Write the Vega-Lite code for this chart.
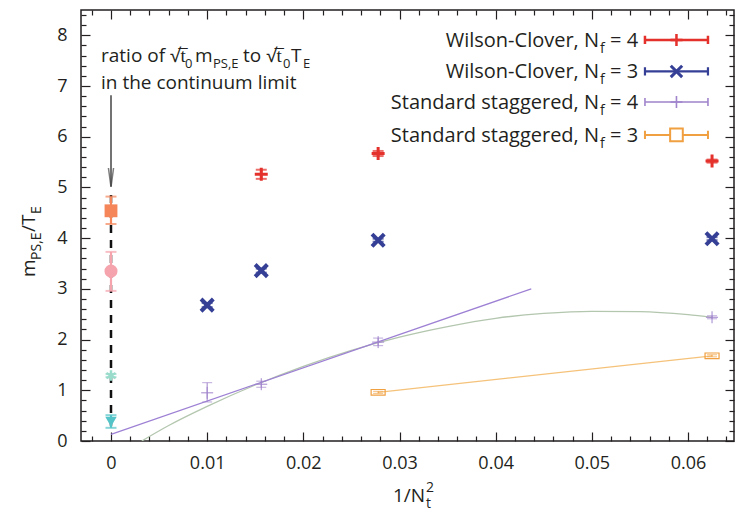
{
"$schema": "https://vega.github.io/schema/vega-lite/v6.json",
"width": 653, "height": 431,
"autosize": {"type": "none"},
"padding": {"left": 81, "top": 10, "right": 2, "bottom": 71},
"background": "white",
"config": {
  "view": {"stroke": "#231f20", "strokeWidth": 1.5},
  "font": "Open Sans",
  "axis": {"grid": false, "domain": false, "labelFont": "Open Sans", "labelFontSize": 18, "labelColor": "#231f20", "tickColor": "#231f20", "tickWidth": 1.2, "labelFlush": false, "labelOverlap": false},
  "text": {"font": "Open Sans", "color": "#231f20"}
},
"data": {"values": [{}]},
"datasets": {
  "pts": [
    {"s": "WC4", "x": 0.015625, "y": 5.26, "lo": 5.17, "hi": 5.35},
    {"s": "WC4", "x": 0.027778, "y": 5.67, "lo": 5.62, "hi": 5.72},
    {"s": "WC4", "x": 0.0625, "y": 5.52, "lo": 5.49, "hi": 5.55},
    {"s": "WC3", "x": 0.01, "y": 2.68, "lo": 2.64, "hi": 2.72},
    {"s": "WC3", "x": 0.015625, "y": 3.36, "lo": 3.32, "hi": 3.40},
    {"s": "WC3", "x": 0.027778, "y": 3.96, "lo": 3.93, "hi": 3.99},
    {"s": "WC3", "x": 0.0625, "y": 3.99, "lo": 3.96, "hi": 4.02},
    {"s": "SS4", "x": 0.01, "y": 0.95, "lo": 0.77, "hi": 1.15},
    {"s": "SS4", "x": 0.015625, "y": 1.12, "lo": 1.06, "hi": 1.18},
    {"s": "SS4", "x": 0.027778, "y": 1.95, "lo": 1.88, "hi": 2.03},
    {"s": "SS4", "x": 0.0625, "y": 2.44, "lo": 2.41, "hi": 2.47},
    {"s": "SS3", "x": 0.027778, "y": 0.96, "lo": 0.94, "hi": 0.98},
    {"s": "SS3", "x": 0.0625, "y": 1.68, "lo": 1.66, "hi": 1.70},
    {"s": "CLsq", "x": 0, "y": 4.54, "lo": 4.28, "hi": 4.82},
    {"s": "CLci", "x": 0, "y": 3.35, "lo": 2.96, "hi": 3.73},
    {"s": "CLst", "x": 0, "y": 1.29, "lo": 1.26, "hi": 1.32},
    {"s": "CLtr", "x": 0, "y": 0.38, "lo": 0.26, "hi": 0.51}
  ],
  "fitq": [
    {"x": 0.0032, "y": 0.0}, {"x": 0.006, "y": 0.305}, {"x": 0.01, "y": 0.682}, {"x": 0.015, "y": 1.104},
    {"x": 0.02, "y": 1.473}, {"x": 0.025, "y": 1.788}, {"x": 0.03, "y": 2.049}, {"x": 0.035, "y": 2.257},
    {"x": 0.04, "y": 2.42}, {"x": 0.045, "y": 2.515}, {"x": 0.05, "y": 2.558}, {"x": 0.055, "y": 2.552},
    {"x": 0.06, "y": 2.491}, {"x": 0.0625, "y": 2.44}
  ],
  "fitl": [{"x": 0, "y": 0.13}, {"x": 0.0437, "y": 3.0}]
},
"resolve": {"axis": {"x": "independent", "y": "independent"}},
"layer": [
  {"data": {"name": "pts"}, "mark": {"type": "point", "opacity": 0},
   "encoding": {
     "x": {"field": "x", "type": "quantitative", "scale": {"domain": [-0.0031196, 0.064783], "nice": false, "zero": false},
           "axis": {"orient": "bottom", "values": [0, 0.01, 0.02, 0.03, 0.04, 0.05, 0.06], "format": "~g", "tickSize": -9, "labelPadding": 22, "title": null}},
     "y": {"field": "y", "type": "quantitative", "scale": {"domain": [0, 8.5], "nice": false, "zero": false},
           "axis": {"orient": "left", "values": [0, 1, 2, 3, 4, 5, 6, 7, 8], "format": "d", "tickSize": -9, "labelPadding": 23, "title": null}}}},
  {"data": {"name": "pts"}, "mark": {"type": "point", "opacity": 0},
   "encoding": {
     "x": {"field": "x", "type": "quantitative", "scale": {"domain": [-0.0031196, 0.064783], "nice": false, "zero": false},
           "axis": {"orient": "bottom", "values": [-0.002, 0.002, 0.004, 0.006, 0.008, 0.012, 0.014, 0.016, 0.018, 0.022, 0.024, 0.026, 0.028, 0.032, 0.034, 0.036, 0.038, 0.042, 0.044, 0.046, 0.048, 0.052, 0.054, 0.056, 0.058, 0.062, 0.064], "tickSize": -5, "labels": false, "title": null}},
     "y": {"field": "y", "type": "quantitative", "scale": {"domain": [0, 8.5], "nice": false, "zero": false},
           "axis": {"orient": "left", "values": [0.2, 0.4, 0.6, 0.8, 1.2, 1.4, 1.6, 1.8, 2.2, 2.4, 2.6, 2.8, 3.2, 3.4, 3.6, 3.8, 4.2, 4.4, 4.6, 4.8, 5.2, 5.4, 5.6, 5.8, 6.2, 6.4, 6.6, 6.8, 7.2, 7.4, 7.6, 7.8, 8.2, 8.4], "tickSize": -5, "labels": false, "title": null}}}},
  {"data": {"name": "pts"}, "mark": {"type": "point", "opacity": 0},
   "encoding": {
     "x": {"field": "x", "type": "quantitative", "scale": {"domain": [-0.0031196, 0.064783], "nice": false, "zero": false},
           "axis": {"orient": "top", "values": [0, 0.01, 0.02, 0.03, 0.04, 0.05, 0.06], "tickSize": -9, "labels": false, "title": null}},
     "y": {"field": "y", "type": "quantitative", "scale": {"domain": [0, 8.5], "nice": false, "zero": false},
           "axis": {"orient": "right", "values": [0, 1, 2, 3, 4, 5, 6, 7, 8], "tickSize": -9, "labels": false, "title": null}}}},
  {"data": {"name": "pts"}, "mark": {"type": "point", "opacity": 0},
   "encoding": {
     "x": {"field": "x", "type": "quantitative", "scale": {"domain": [-0.0031196, 0.064783], "nice": false, "zero": false},
           "axis": {"orient": "top", "values": [-0.002, 0.002, 0.004, 0.006, 0.008, 0.012, 0.014, 0.016, 0.018, 0.022, 0.024, 0.026, 0.028, 0.032, 0.034, 0.036, 0.038, 0.042, 0.044, 0.046, 0.048, 0.052, 0.054, 0.056, 0.058, 0.062, 0.064], "tickSize": -5, "labels": false, "title": null}},
     "y": {"field": "y", "type": "quantitative", "scale": {"domain": [0, 8.5], "nice": false, "zero": false},
           "axis": {"orient": "right", "values": [0.2, 0.4, 0.6, 0.8, 1.2, 1.4, 1.6, 1.8, 2.2, 2.4, 2.6, 2.8, 3.2, 3.4, 3.6, 3.8, 4.2, 4.4, 4.6, 4.8, 5.2, 5.4, 5.6, 5.8, 6.2, 6.4, 6.6, 6.8, 7.2, 7.4, 7.6, 7.8, 8.2, 8.4], "tickSize": -5, "labels": false, "title": null}}}},

  {"data": {"name": "fitq"}, "mark": {"type": "line", "color": "#b3c6ae", "strokeWidth": 1.3, "interpolate": "monotone", "clip": true},
   "encoding": {"x": {"field": "x", "type": "quantitative", "axis": null}, "y": {"field": "y", "type": "quantitative", "axis": null}}},
  {"data": {"name": "fitl"}, "mark": {"type": "line", "color": "#9d80d4", "strokeWidth": 1.2},
   "encoding": {"x": {"field": "x", "type": "quantitative", "axis": null}, "y": {"field": "y", "type": "quantitative", "axis": null}}},
  {"data": {"name": "pts"}, "transform": [{"filter": {"field": "s", "equal": "SS3"}}], "mark": {"type": "line", "color": "#f5c27a", "strokeWidth": 1.2},
   "encoding": {"x": {"field": "x", "type": "quantitative", "axis": null}, "y": {"field": "y", "type": "quantitative", "axis": null}}},

  {"mark": {"type": "rule", "color": "#111111", "strokeWidth": 2.5, "strokeDash": [8, 7]},
   "encoding": {"x": {"datum": 0, "type": "quantitative", "axis": null}, "y": {"datum": 4.85, "type": "quantitative", "axis": null}, "y2": {"datum": 0.3}}},
  {"mark": {"type": "rule", "color": "#444444", "strokeWidth": 1.5},
   "encoding": {"x": {"datum": 0, "type": "quantitative", "axis": null}, "y": {"datum": 6.82, "type": "quantitative", "axis": null}, "y2": {"datum": 5.02}}},
  {"mark": {"type": "point", "shape": "M-0.27,-1L0,1L0.27,-1", "size": 361, "filled": false, "color": "#444444", "strokeWidth": 1.5},
   "encoding": {"x": {"datum": 0, "type": "quantitative", "axis": null}, "y": {"datum": 5.197, "type": "quantitative", "axis": null}}},

  {"data": {"name": "pts"}, "transform": [{"filter": {"field": "s", "oneOf": ["WC4", "WC3", "CLsq", "CLci", "CLst", "CLtr"]}}],
   "mark": {"type": "rule", "strokeWidth": 2.2},
   "encoding": {"x": {"field": "x", "type": "quantitative", "axis": null}, "y": {"field": "lo", "type": "quantitative", "axis": null}, "y2": {"field": "hi"},
     "color": {"field": "s", "type": "nominal", "legend": null, "scale": {"domain": ["WC4", "WC3", "SS4", "SS3", "CLsq", "CLci", "CLst", "CLtr"], "range": ["#e4312b", "#343f95", "#a084cc", "#f0a040", "#f4865a", "#f5a3ad", "#9adccc", "#55c4c8"]}}}},
  {"data": {"name": "pts"}, "transform": [{"filter": {"field": "s", "oneOf": ["SS4", "SS3"]}}],
   "mark": {"type": "rule", "strokeWidth": 1},
   "encoding": {"x": {"field": "x", "type": "quantitative", "axis": null}, "y": {"field": "lo", "type": "quantitative", "axis": null}, "y2": {"field": "hi"},
     "color": {"field": "s", "type": "nominal", "legend": null, "scale": {"domain": ["WC4", "WC3", "SS4", "SS3", "CLsq", "CLci", "CLst", "CLtr"], "range": ["#e4312b", "#343f95", "#a084cc", "#f0a040", "#f4865a", "#f5a3ad", "#9adccc", "#55c4c8"]}}}},
  {"data": {"name": "pts"}, "transform": [{"filter": {"field": "s", "oneOf": ["WC4", "WC3", "CLsq", "CLci", "CLst", "CLtr"]}}, {"fold": ["lo", "hi"], "as": ["k", "v"]}],
   "mark": {"type": "tick", "orient": "horizontal", "size": 11, "thickness": 2},
   "encoding": {"x": {"field": "x", "type": "quantitative", "axis": null}, "y": {"field": "v", "type": "quantitative", "axis": null},
     "color": {"field": "s", "type": "nominal", "legend": null, "scale": {"domain": ["WC4", "WC3", "SS4", "SS3", "CLsq", "CLci", "CLst", "CLtr"], "range": ["#e4312b", "#343f95", "#a084cc", "#f0a040", "#f4865a", "#f5a3ad", "#9adccc", "#55c4c8"]}}}},
  {"data": {"name": "pts"}, "transform": [{"filter": {"field": "s", "oneOf": ["SS4", "SS3"]}}, {"fold": ["lo", "hi"], "as": ["k", "v"]}],
   "mark": {"type": "tick", "orient": "horizontal", "size": 10, "thickness": 1},
   "encoding": {"x": {"field": "x", "type": "quantitative", "axis": null}, "y": {"field": "v", "type": "quantitative", "axis": null},
     "color": {"field": "s", "type": "nominal", "legend": null, "scale": {"domain": ["WC4", "WC3", "SS4", "SS3", "CLsq", "CLci", "CLst", "CLtr"], "range": ["#e4312b", "#343f95", "#a084cc", "#f0a040", "#f4865a", "#f5a3ad", "#9adccc", "#55c4c8"]}}}},

  {"data": {"name": "pts"}, "transform": [{"filter": {"field": "s", "equal": "WC4"}}],
   "mark": {"type": "point", "shape": "M-1,0L1,0M0,-1L0,1", "size": 169, "filled": false, "color": "#e4312b", "strokeWidth": 3, "opacity": 1},
   "encoding": {"x": {"field": "x", "type": "quantitative", "axis": null}, "y": {"field": "y", "type": "quantitative", "axis": null}}},
  {"data": {"name": "pts"}, "transform": [{"filter": {"field": "s", "equal": "WC3"}}],
   "mark": {"type": "point", "shape": "M-1,-1L1,1M-1,1L1,-1", "size": 150, "filled": false, "color": "#343f95", "strokeWidth": 4, "opacity": 1},
   "encoding": {"x": {"field": "x", "type": "quantitative", "axis": null}, "y": {"field": "y", "type": "quantitative", "axis": null}}},
  {"data": {"name": "pts"}, "transform": [{"filter": {"field": "s", "equal": "SS4"}}],
   "mark": {"type": "point", "shape": "M-1,0L1,0M0,-1L0,1", "size": 144, "filled": false, "color": "#a084cc", "strokeWidth": 1, "opacity": 1},
   "encoding": {"x": {"field": "x", "type": "quantitative", "axis": null}, "y": {"field": "y", "type": "quantitative", "axis": null}}},
  {"data": {"name": "pts"}, "transform": [{"filter": {"field": "s", "equal": "SS3"}}],
   "mark": {"type": "point", "shape": "M-1,-0.4H1V0.4H-1Z", "size": 196, "filled": false, "color": "#f0a040", "strokeWidth": 1.2, "opacity": 1},
   "encoding": {"x": {"field": "x", "type": "quantitative", "axis": null}, "y": {"field": "y", "type": "quantitative", "axis": null}}},
  {"data": {"name": "pts"}, "transform": [{"filter": {"field": "s", "equal": "CLsq"}}],
   "mark": {"type": "point", "shape": "square", "size": 165, "filled": true, "color": "#f4865a", "opacity": 1},
   "encoding": {"x": {"field": "x", "type": "quantitative", "axis": null}, "y": {"field": "y", "type": "quantitative", "axis": null}}},
  {"data": {"name": "pts"}, "transform": [{"filter": {"field": "s", "equal": "CLci"}}],
   "mark": {"type": "point", "shape": "circle", "size": 170, "filled": true, "color": "#f5a3ad", "opacity": 1},
   "encoding": {"x": {"field": "x", "type": "quantitative", "axis": null}, "y": {"field": "y", "type": "quantitative", "axis": null}}},
  {"data": {"name": "pts"}, "transform": [{"filter": {"field": "s", "equal": "CLst"}}],
   "mark": {"type": "point", "shape": "M0,-1L0,1M-0.87,-0.5L0.87,0.5M-0.87,0.5L0.87,-0.5", "size": 110, "filled": false, "color": "#9adccc", "strokeWidth": 2.5, "opacity": 1},
   "encoding": {"x": {"field": "x", "type": "quantitative", "axis": null}, "y": {"field": "y", "type": "quantitative", "axis": null}}},
  {"data": {"name": "pts"}, "transform": [{"filter": {"field": "s", "equal": "CLtr"}}],
   "mark": {"type": "point", "shape": "triangle-down", "size": 130, "filled": true, "color": "#55c4c8", "opacity": 1},
   "encoding": {"x": {"field": "x", "type": "quantitative", "axis": null}, "y": {"field": "y", "type": "quantitative", "axis": null}}},

  {"mark": {"type": "point", "shape": "M-1,0L1,0M-1,-0.13L-1,0.13M1,-0.13L1,0.13", "size": 3969, "filled": false, "color": "#e4312b", "strokeWidth": 2.5, "opacity": 1},
   "encoding": {"x": {"datum": 0.0588, "type": "quantitative", "axis": null}, "y": {"datum": 7.909, "type": "quantitative", "axis": null}}},
  {"mark": {"type": "point", "shape": "M-1,0L1,0M0,-1L0,1", "size": 144, "filled": false, "color": "#e4312b", "strokeWidth": 2.5, "opacity": 1},
   "encoding": {"x": {"datum": 0.0588, "type": "quantitative", "axis": null}, "y": {"datum": 7.909, "type": "quantitative", "axis": null}}},
  {"mark": {"type": "point", "shape": "M-1,0L1,0M-1,-0.13L-1,0.13M1,-0.13L1,0.13", "size": 3969, "filled": false, "color": "#343f95", "strokeWidth": 2.2, "opacity": 1},
   "encoding": {"x": {"datum": 0.0588, "type": "quantitative", "axis": null}, "y": {"datum": 7.288, "type": "quantitative", "axis": null}}},
  {"mark": {"type": "point", "shape": "M-1,-1L1,1M-1,1L1,-1", "size": 130, "filled": false, "color": "#343f95", "strokeWidth": 3, "opacity": 1},
   "encoding": {"x": {"datum": 0.0588, "type": "quantitative", "axis": null}, "y": {"datum": 7.288, "type": "quantitative", "axis": null}}},
  {"mark": {"type": "point", "shape": "M-1,0L1,0M-1,-0.13L-1,0.13M1,-0.13L1,0.13", "size": 3969, "filled": false, "color": "#a084cc", "strokeWidth": 1.6, "opacity": 1},
   "encoding": {"x": {"datum": 0.0588, "type": "quantitative", "axis": null}, "y": {"datum": 6.686, "type": "quantitative", "axis": null}}},
  {"mark": {"type": "point", "shape": "M-1,0L1,0M0,-1L0,1", "size": 144, "filled": false, "color": "#a084cc", "strokeWidth": 1.6, "opacity": 1},
   "encoding": {"x": {"datum": 0.0588, "type": "quantitative", "axis": null}, "y": {"datum": 6.686, "type": "quantitative", "axis": null}}},
  {"mark": {"type": "point", "shape": "M-1,0L1,0M-1,-0.13L-1,0.13M1,-0.13L1,0.13", "size": 3969, "filled": false, "color": "#f0a040", "strokeWidth": 2, "opacity": 1},
   "encoding": {"x": {"datum": 0.0588, "type": "quantitative", "axis": null}, "y": {"datum": 6.036, "type": "quantitative", "axis": null}}},
  {"mark": {"type": "point", "shape": "square", "size": 160, "filled": false, "fill": "white", "color": "#f0a040", "strokeWidth": 2, "opacity": 1},
   "encoding": {"x": {"datum": 0.0588, "type": "quantitative", "axis": null}, "y": {"datum": 6.036, "type": "quantitative", "axis": null}}},

  {"mark": {"type": "text", "text": "Wilson-Clover, N", "align": "right", "baseline": "alphabetic", "fontSize": 20},
   "encoding": {"x": {"datum": 0.05075, "type": "quantitative", "axis": null}, "y": {"datum": 7.771, "type": "quantitative", "axis": null}}},
  {"mark": {"type": "text", "text": "f", "align": "left", "baseline": "alphabetic", "fontSize": 14, "dx": 1, "dy": 6},
   "encoding": {"x": {"datum": 0.05075, "type": "quantitative", "axis": null}, "y": {"datum": 7.771, "type": "quantitative", "axis": null}}},
  {"mark": {"type": "text", "text": "= 4", "align": "left", "baseline": "alphabetic", "fontSize": 20, "dx": 11},
   "encoding": {"x": {"datum": 0.05075, "type": "quantitative", "axis": null}, "y": {"datum": 7.771, "type": "quantitative", "axis": null}}},
  {"mark": {"type": "text", "text": "Wilson-Clover, N", "align": "right", "baseline": "alphabetic", "fontSize": 20},
   "encoding": {"x": {"datum": 0.05075, "type": "quantitative", "axis": null}, "y": {"datum": 7.150, "type": "quantitative", "axis": null}}},
  {"mark": {"type": "text", "text": "f", "align": "left", "baseline": "alphabetic", "fontSize": 14, "dx": 1, "dy": 6},
   "encoding": {"x": {"datum": 0.05075, "type": "quantitative", "axis": null}, "y": {"datum": 7.150, "type": "quantitative", "axis": null}}},
  {"mark": {"type": "text", "text": "= 3", "align": "left", "baseline": "alphabetic", "fontSize": 20, "dx": 11},
   "encoding": {"x": {"datum": 0.05075, "type": "quantitative", "axis": null}, "y": {"datum": 7.150, "type": "quantitative", "axis": null}}},
  {"mark": {"type": "text", "text": "Standard staggered, N", "align": "right", "baseline": "alphabetic", "fontSize": 20},
   "encoding": {"x": {"datum": 0.05075, "type": "quantitative", "axis": null}, "y": {"datum": 6.548, "type": "quantitative", "axis": null}}},
  {"mark": {"type": "text", "text": "f", "align": "left", "baseline": "alphabetic", "fontSize": 14, "dx": 1, "dy": 6},
   "encoding": {"x": {"datum": 0.05075, "type": "quantitative", "axis": null}, "y": {"datum": 6.548, "type": "quantitative", "axis": null}}},
  {"mark": {"type": "text", "text": "= 4", "align": "left", "baseline": "alphabetic", "fontSize": 20, "dx": 11},
   "encoding": {"x": {"datum": 0.05075, "type": "quantitative", "axis": null}, "y": {"datum": 6.548, "type": "quantitative", "axis": null}}},
  {"mark": {"type": "text", "text": "Standard staggered, N", "align": "right", "baseline": "alphabetic", "fontSize": 20},
   "encoding": {"x": {"datum": 0.05075, "type": "quantitative", "axis": null}, "y": {"datum": 5.897, "type": "quantitative", "axis": null}}},
  {"mark": {"type": "text", "text": "f", "align": "left", "baseline": "alphabetic", "fontSize": 14, "dx": 1, "dy": 6},
   "encoding": {"x": {"datum": 0.05075, "type": "quantitative", "axis": null}, "y": {"datum": 5.897, "type": "quantitative", "axis": null}}},
  {"mark": {"type": "text", "text": "= 3", "align": "left", "baseline": "alphabetic", "fontSize": 20, "dx": 11},
   "encoding": {"x": {"datum": 0.05075, "type": "quantitative", "axis": null}, "y": {"datum": 5.897, "type": "quantitative", "axis": null}}},

  {"mark": {"type": "text", "text": "ratio of √t̅", "align": "left", "baseline": "alphabetic", "fontSize": 19},
   "encoding": {"x": {"datum": -0.00104, "type": "quantitative", "axis": null}, "y": {"datum": 7.48, "type": "quantitative", "axis": null}}},
  {"mark": {"type": "text", "text": "0", "align": "left", "baseline": "alphabetic", "fontSize": 13, "dx": 84, "dy": 6},
   "encoding": {"x": {"datum": -0.00104, "type": "quantitative", "axis": null}, "y": {"datum": 7.48, "type": "quantitative", "axis": null}}},
  {"mark": {"type": "text", "text": "m", "align": "left", "baseline": "alphabetic", "fontSize": 19, "dx": 94},
   "encoding": {"x": {"datum": -0.00104, "type": "quantitative", "axis": null}, "y": {"datum": 7.48, "type": "quantitative", "axis": null}}},
  {"mark": {"type": "text", "text": "PS,E", "align": "left", "baseline": "alphabetic", "fontSize": 13, "dx": 112, "dy": 6},
   "encoding": {"x": {"datum": -0.00104, "type": "quantitative", "axis": null}, "y": {"datum": 7.48, "type": "quantitative", "axis": null}}},
  {"mark": {"type": "text", "text": "to √t̅", "align": "left", "baseline": "alphabetic", "fontSize": 19, "dx": 142},
   "encoding": {"x": {"datum": -0.00104, "type": "quantitative", "axis": null}, "y": {"datum": 7.48, "type": "quantitative", "axis": null}}},
  {"mark": {"type": "text", "text": "0", "align": "left", "baseline": "alphabetic", "fontSize": 13, "dx": 182, "dy": 6},
   "encoding": {"x": {"datum": -0.00104, "type": "quantitative", "axis": null}, "y": {"datum": 7.48, "type": "quantitative", "axis": null}}},
  {"mark": {"type": "text", "text": "T", "align": "left", "baseline": "alphabetic", "fontSize": 19, "dx": 190},
   "encoding": {"x": {"datum": -0.00104, "type": "quantitative", "axis": null}, "y": {"datum": 7.48, "type": "quantitative", "axis": null}}},
  {"mark": {"type": "text", "text": "E", "align": "left", "baseline": "alphabetic", "fontSize": 13, "dx": 202, "dy": 6},
   "encoding": {"x": {"datum": -0.00104, "type": "quantitative", "axis": null}, "y": {"datum": 7.48, "type": "quantitative", "axis": null}}},
  {"mark": {"type": "text", "text": "in the continuum limit", "align": "left", "baseline": "alphabetic", "fontSize": 19},
   "encoding": {"x": {"datum": -0.00104, "type": "quantitative", "axis": null}, "y": {"datum": 6.94, "type": "quantitative", "axis": null}}},

  {"mark": {"type": "text", "text": "m", "align": "left", "baseline": "alphabetic", "fontSize": 19, "angle": 270},
   "encoding": {"x": {"datum": -0.0079, "type": "quantitative", "axis": null}, "y": {"datum": 3.235, "type": "quantitative", "axis": null}}},
  {"mark": {"type": "text", "text": "PS,E", "align": "left", "baseline": "alphabetic", "fontSize": 14, "angle": 270, "dx": 17, "dy": 6},
   "encoding": {"x": {"datum": -0.0079, "type": "quantitative", "axis": null}, "y": {"datum": 3.235, "type": "quantitative", "axis": null}}},
  {"mark": {"type": "text", "text": "/T", "align": "left", "baseline": "alphabetic", "fontSize": 19, "angle": 270, "dx": 45},
   "encoding": {"x": {"datum": -0.0079, "type": "quantitative", "axis": null}, "y": {"datum": 3.235, "type": "quantitative", "axis": null}}},
  {"mark": {"type": "text", "text": "E", "align": "left", "baseline": "alphabetic", "fontSize": 14, "angle": 270, "dx": 63, "dy": 6},
   "encoding": {"x": {"datum": -0.0079, "type": "quantitative", "axis": null}, "y": {"datum": 3.235, "type": "quantitative", "axis": null}}},

  {"mark": {"type": "text", "text": "1/N", "align": "left", "baseline": "alphabetic", "fontSize": 19},
   "encoding": {"x": {"datum": 0.02932, "type": "quantitative", "axis": null}, "y": {"datum": -1.203, "type": "quantitative", "axis": null}}},
  {"mark": {"type": "text", "text": "t", "align": "left", "baseline": "alphabetic", "fontSize": 14, "dx": 33, "dy": 6},
   "encoding": {"x": {"datum": 0.02932, "type": "quantitative", "axis": null}, "y": {"datum": -1.203, "type": "quantitative", "axis": null}}},
  {"mark": {"type": "text", "text": "2", "align": "left", "baseline": "alphabetic", "fontSize": 14, "dx": 33, "dy": -10},
   "encoding": {"x": {"datum": 0.02932, "type": "quantitative", "axis": null}, "y": {"datum": -1.203, "type": "quantitative", "axis": null}}}
]
}
